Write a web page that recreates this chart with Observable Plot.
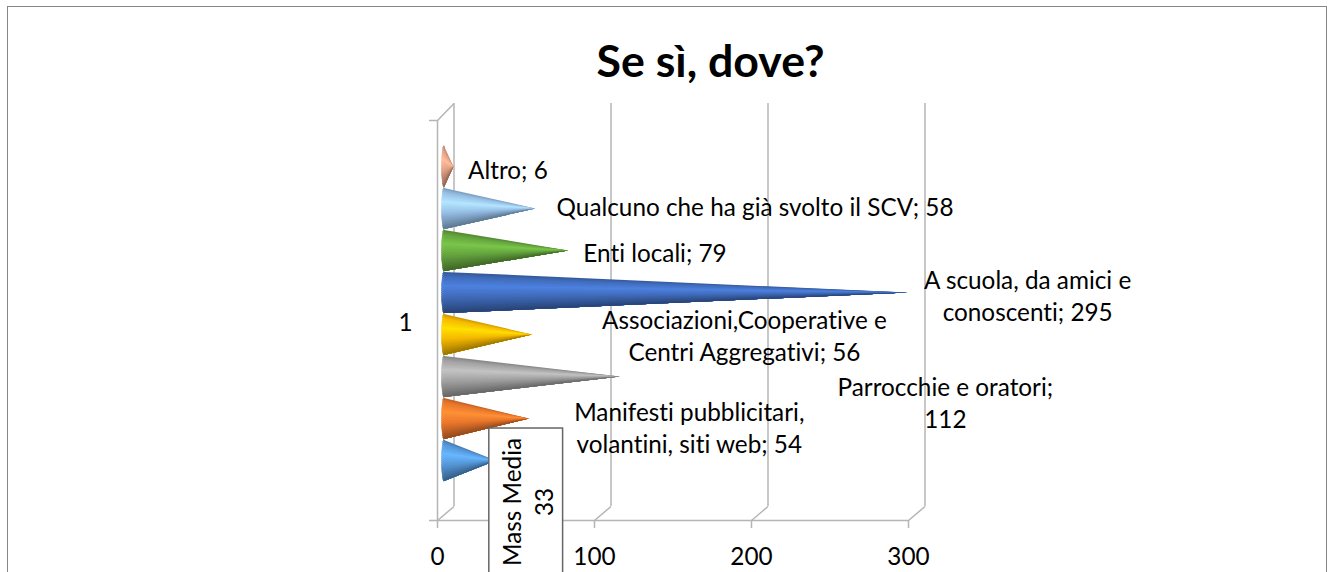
<!DOCTYPE html>
<html>
<head>
<meta charset="utf-8">
<script src="https://cdn.jsdelivr.net/npm/d3@7"></script>
<script src="https://cdn.jsdelivr.net/npm/@observablehq/plot@0.6"></script>
<style>
html,body{margin:0;padding:0;background:#fff;overflow:hidden;width:1334px;height:572px}
#frame{position:absolute;left:7px;top:6px;width:1318px;height:620px;border:1.5px solid #868686;box-sizing:content-box;border-bottom:none}
#title{position:absolute;left:0;width:1421px;top:35px;text-align:center;font:bold 44.7px Lato,sans-serif;color:#000;line-height:50px;margin:0;font-variant-ligatures:none}
#chart{position:absolute;left:0;top:0}
svg{overflow:hidden;font-variant-ligatures:none}
</style>
</head>
<body>
<div id="frame"></div>
<h1 id="title">Se sì, dove?</h1>
<div id="chart"></div>
<script>
// Data, bottom to top
const categories = ["Mass Media","Manifesti pubblicitari, volantini, siti web","Parrocchie e oratori","Associazioni,Cooperative e Centri Aggregativi","A scuola, da amici e conoscenti","Enti locali","Qualcuno che ha già svolto il SCV","Altro"];
const values = [33,54,112,56,295,79,58,6];
const labels = ["Mass Media\n33","Manifesti pubblicitari,\nvolantini, siti web; 54","Parrocchie e oratori;\n112","Associazioni,Cooperative e\nCentri Aggregativi; 56","A scuola, da amici e\nconoscenti; 295","Enti locali; 79","Qualcuno che ha già svolto il SCV; 58","Altro; 6"];
const xTicks = [0,100,200,300];
const categoryTick = "1";

// Styles
const coneColors = ["#5596d6","#e8762c","#a0a0a0","#f5b800","#3f6ab8","#64a33e","#94bde4","#dd9c80"];
const gridColor = "#b5b5b5", textColor = "#000";
const fontSize = 24.3;

// Layout helpers (slot units: one slot per cone)
const slots = 400/42, firstSlot = 1.417, halfH = 0.49, strips = 22, bulge = 1.6;
const depthX = 10.5, depthY = 1/3, topDepth = 9.93;
const slotOf = i => firstSlot + i;
const ramp = c => {
  const b = d3.rgb(c);
  return d3.scaleLinear()
    .domain([0,.1,.34,.62,1])
    .range([b.darker(.6),b,b.brighter(.55),b,b.darker(1.3)].map(String))
    .interpolate(d3.interpolateRgb);
};
const cones = [], bases = [];
values.forEach((v,i)=>{
  const r = ramp(coneColors[i]), c = slotOf(i), bottom = c-halfH;
  for(let s=0;s<strips;s++){
    const a = s/strips, b = (s+1)/strips, m = (a+b)/2;
    const hi = c+halfH-2*halfH*a, lo = c+halfH-2*halfH*b, fill = r(m), id = i+"-"+String(s).padStart(2,"0");
    // each strip is painted from its top edge down to the cone's bottom, so later strips hide the seams
    cones.push({id,x:0,y1:bottom,y2:hi,fill},{id,x:v,y1:c,y2:c,fill});
    const t = 2*m-1;
    bases.push({x1:-bulge*Math.sqrt(1-t*t),x2:0.3,y1:lo,y2:hi,fill});
  }
});

// Label offsets from the tip of each value (px)
const placement = [[37,41],[167,7.5],[332,24.5],[219,-0.5],[127,2],[93.5,1],[226.5,-3],[61,2]];
const textOpts = {fontFamily:"Lato,sans-serif",fontSize,fill:textColor,lineHeight:1.32};
const labelMarks = labels.map((t,i)=> i===0 ? null : Plot.text([t],{
  x:()=>values[i], y:()=>slotOf(i), text:d=>d, dx:placement[i][0], dy:placement[i][1], ...textOpts
}));

const plot = Plot.plot({
  width:1334, height:572,
  marginLeft:437, marginRight:426, marginTop:120, marginBottom:52,
  style:{background:"transparent"},
  x:{domain:[0,300],range:[437,908]},
  y:{domain:[0,slots],range:[520,120]},
  marks:[
    // back wall and floor
    Plot.ruleX(xTicks,{y1:depthY,y2:topDepth,dx:16.5,stroke:gridColor,strokeWidth:1.5}),
    Plot.link(xTicks,{x1:d=>d,y1:0,x2:d=>d+depthX,y2:depthY,stroke:gridColor,strokeWidth:1.5}),
    Plot.link([0],{x1:d=>d,y1:slots,x2:d=>d+depthX,y2:topDepth,stroke:gridColor,strokeWidth:1.5}),
    Plot.ruleX([0],{y1:0,y2:slots,stroke:gridColor,strokeWidth:1.5}),
    Plot.ruleY([0,slots],{x1:-5.1,x2:d=>d===0?300:0,stroke:gridColor,strokeWidth:1.5}),
    Plot.axisX(xTicks,{anchor:"bottom",tickSize:8,tickPadding:19,stroke:gridColor,fill:textColor,fontSize,fontFamily:"Lato,sans-serif",tickFormat:d=>String(d),label:null,strokeWidth:1.5}),
    Plot.axisY([4.69],{anchor:"left",tickSize:0,tickPadding:25,tickFormat:()=>categoryTick,fill:textColor,fontSize,fontFamily:"Lato,sans-serif",label:null}),
    // cones
    Plot.rect(bases,{x1:"x1",x2:"x2",y1:"y1",y2:"y2",fill:"fill",stroke:"fill",strokeWidth:.4,dx:7}),
    Plot.areaY(cones,{x:"x",y1:"y1",y2:"y2",z:"id",fill:"fill",sort:"id",dx:7}),
    // labels
    ...labelMarks.filter(Boolean),
    Plot.rect([values[0]],{x1:d=>d,x2:80,y1:-2,y2:2.19,fill:"#fff",stroke:"#666",strokeWidth:1.5}),
    Plot.text([labels[0]],{x:()=>values[0],y:()=>slotOf(0),text:d=>d,dx:placement[0][0],dy:placement[0][1],rotate:-90,...textOpts})
  ]
});
document.getElementById("chart").appendChild(plot);
</script>
</body>
</html>
